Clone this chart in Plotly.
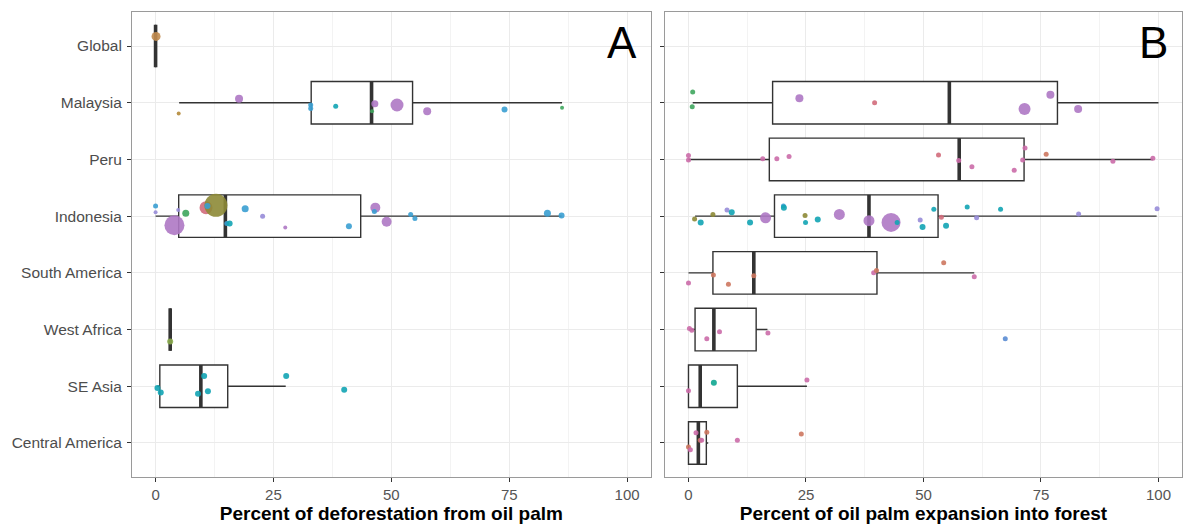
import plotly.graph_objects as go

# ---------------- categories ----------------
categories = ["Global", "Malaysia", "Peru", "Indonesia", "South America",
              "West Africa", "SE Asia", "Central America"]
x_ticks = [0, 25, 50, 75, 100]
x_title_a = "Percent of deforestation from oil palm"
x_title_b = "Percent of oil palm expansion into forest"

# ---------------- box statistics ----------------
# Panel A
a_box_cat = ["Global", "Malaysia", "Indonesia", "West Africa", "SE Asia"]
a_lower = [0.0, 5.0, 0.0, 3.1, 0.4]
a_q1 = [0.0, 33.0, 4.9, 3.1, 0.9]
a_median = [0.0, 45.8, 14.8, 3.1, 9.6]
a_q3 = [0.0, 54.5, 43.5, 3.1, 15.3]
a_upper = [0.0, 86.2, 86.1, 3.1, 27.6]

# Panel B
b_box_cat = ["Malaysia", "Peru", "Indonesia", "South America",
             "West Africa", "SE Asia", "Central America"]
b_lower = [0.9, 0.0, 1.4, 0.0, 0.2, 0.0, 0.0]
b_q1 = [17.9, 17.2, 18.3, 5.2, 1.4, 0.0, 0.0]
b_median = [55.5, 57.6, 38.4, 13.9, 5.4, 2.5, 2.1]
b_q3 = [78.5, 71.4, 53.1, 40.1, 14.4, 10.4, 3.8]
b_upper = [100.0, 98.8, 99.6, 60.8, 16.8, 25.2, 4.2]

# ---------------- individual study points ----------------
# Panel A
a_pt_cat = (["Global"]
            + ["Malaysia"] * 11
            + ["Indonesia"] * 21
            + ["West Africa"]
            + ["SE Asia"] * 7)
a_pt_val = ([0.1]
            + [4.9, 17.7, 32.9, 32.9, 38.2, 46.5, 45.9, 51.2, 57.6, 74.0, 86.2]
            + [0.0, 0.0, 4.8, 4.0, 6.4, 10.7, 12.8, 11.0, 15.1, 15.7, 19.0, 22.7,
               27.5, 41.0, 46.6, 46.4, 49.0, 54.1, 55.0, 83.1, 86.1]
            + [3.1]
            + [0.4, 1.1, 9.0, 10.3, 11.1, 27.7, 40.0])
# vertical jitter (category units, positive = downward)
a_pt_jit = ([-0.17]
            + [0.19, -0.07, 0.04, 0.10, 0.06, 0.02, 0.15, 0.04, 0.15, 0.12, 0.09]
            + [-0.18, -0.07, -0.11, 0.16, -0.05, -0.15, -0.19, -0.18, 0.13, 0.13,
               -0.13, 0.00, 0.20, 0.18, -0.15, -0.08, 0.10, -0.03, 0.04, -0.05, -0.01]
            + [0.21]
            + [0.03, 0.11, 0.13, -0.18, 0.09, -0.18, 0.06])
a_pt_grp = (["brown"]
            + ["gold", "purple", "blue", "blue", "teal", "purple", "green",
               "purple", "purple", "blue", "green"]
            + ["blue", "lavender", "lavender", "purple", "green", "redpink", "olive",
               "blue", "blue", "teal", "blue", "lavender", "purple", "blue",
               "purple", "blue", "purple", "blue", "blue", "blue", "blue"]
            + ["yellowgreen"]
            + ["teal"] * 7)
a_pt_size = ([9]
             + [4, 8, 5, 5, 5, 7, 4, 13, 8, 6, 4]
             + [5, 4, 4, 20, 7, 13, 23, 6, 5, 6, 7, 5, 4, 6, 10, 5, 10, 5, 5, 7, 6]
             + [6]
             + [6, 6, 6, 6, 6, 6, 6])

# Panel B
b_pt_cat = (["Malaysia"] * 7
            + ["Peru"] * 14
            + ["Indonesia"] * 26
            + ["South America"] * 8
            + ["West Africa"] * 6
            + ["SE Asia"] * 3
            + ["Central America"] * 8)
b_pt_val = ([0.9, 0.8, 23.6, 39.6, 71.5, 77.0, 82.9]
            + [0.0, 0.0, 15.8, 18.8, 21.4, 53.2, 57.5, 60.3, 69.3, 71.1, 71.6,
               76.1, 90.3, 98.8]
            + [1.3, 2.6, 5.2, 8.2, 9.2, 13.1, 16.4, 20.2, 20.3, 24.8, 24.9, 27.5,
               32.1, 38.4, 43.1, 44.4, 49.3, 49.8, 52.2, 53.8, 54.8, 59.3, 61.3,
               66.4, 83.0, 99.7]
            + [0.0, 5.3, 8.5, 13.9, 39.4, 40.0, 54.3, 60.8]
            + [0.2, 0.7, 3.9, 6.6, 16.9, 67.4]
            + [0.0, 5.4, 25.2]
            + [0.0, 0.4, 1.6, 3.9, 2.5, 2.8, 10.4, 24.0])
b_pt_jit = ([-0.19, 0.07, -0.08, 0.00, 0.11, -0.14, 0.11]
            + [-0.07, 0.01, -0.01, -0.01, -0.05, -0.08, 0.02, 0.13, 0.19, 0.01,
               -0.20, -0.09, 0.03, -0.02]
            + [0.05, 0.11, -0.03, -0.11, -0.07, 0.11, 0.03, -0.18, -0.15, -0.01,
               0.11, 0.06, -0.03, 0.08, 0.11, 0.11, 0.07, 0.19, -0.12, 0.02,
               0.17, -0.16, 0.03, -0.12, -0.04, -0.13]
            + [0.18, 0.04, 0.20, 0.05, 0.00, -0.04, -0.18, 0.07]
            + [-0.02, 0.01, 0.16, 0.04, 0.06, 0.16]
            + [0.08, -0.06, -0.11]
            + [0.07, 0.12, -0.18, -0.19, -0.05, -0.05, -0.05, -0.16])
b_pt_grp = (["green", "green", "purple", "redpink", "purple", "purple", "purple"]
            + ["pink", "pink", "pink", "pink", "pink", "redpink", "pink", "pink",
               "pink", "pink", "pink", "redorange", "pink", "pink"]
            + ["olive", "teal", "olive", "lavender", "teal", "teal", "purple",
               "blue", "teal", "olive", "teal", "teal", "purple", "purple",
               "purple", "teal", "lavender", "teal", "teal", "redpink", "teal",
               "teal", "lavender", "teal", "lavender", "lavender"]
            + ["pink", "redorange", "redorange", "redorange", "pink", "redorange",
               "redorange", "pink"]
            + ["pink", "pink", "pink", "pink", "pink", "steelblue"]
            + ["pink", "tealgreen", "pink"]
            + ["redorange", "pink", "pink", "redorange", "redorange", "pink",
               "pink", "redorange"])
b_pt_size = ([5, 5, 8, 5, 12, 8, 8]
             + [5] * 14
             + [5, 6, 5, 5, 6, 6, 11, 5, 6, 5, 5, 6, 11, 11, 19, 5, 5, 6, 5, 5,
                6, 5, 5, 5, 5, 5]
             + [5] * 8
             + [5] * 6
             + [5, 6, 5]
             + [5] * 8)

# ---------------- styling ----------------
palette = {
    "brown": "#C18B4E", "gold": "#B4893A", "purple": "#AE78C4",
    "blue": "#3A9ED2", "teal": "#12A4B4", "green": "#3FA65E",
    "olive": "#8D8A36", "redpink": "#D16C7B", "pink": "#CB6CA8",
    "redorange": "#CD775F", "lavender": "#978CD8", "steelblue": "#5A8CD3",
    "yellowgreen": "#88A94C", "tealgreen": "#10A690",
}
FONT = "Liberation Sans, Arial, Helvetica, sans-serif"
BOX_W = 0.75
idx = {c: i for i, c in enumerate(categories)}

fig = go.Figure()


def add_panel(xa, ya, box_cat, lo, q1, med, q3, up,
              pt_cat, pt_val, pt_jit, pt_grp, pt_size):
    fig.add_trace(go.Box(
        y=[idx[c] for c in box_cat], q1=q1, median=med, q3=q3,
        lowerfence=lo, upperfence=up, orientation="h", width=BOX_W,
        whiskerwidth=0, boxpoints=False, fillcolor="white",
        line=dict(color="#333333", width=1.4), showlegend=False,
        hoverinfo="skip", xaxis=xa, yaxis=ya))
    # thick median segments
    mx, my = [], []
    for c, m in zip(box_cat, med):
        mx += [m, m, None]
        my += [idx[c] - BOX_W / 2, idx[c] + BOX_W / 2, None]
    fig.add_trace(go.Scatter(x=mx, y=my, mode="lines",
                             line=dict(color="#333333", width=3.6),
                             showlegend=False, hoverinfo="skip",
                             xaxis=xa, yaxis=ya))
    fig.add_trace(go.Scatter(
        x=pt_val, y=[idx[c] + j for c, j in zip(pt_cat, pt_jit)],
        mode="markers",
        marker=dict(color=[palette[g] for g in pt_grp], size=pt_size,
                    opacity=0.9, line=dict(width=0)),
        showlegend=False, xaxis=xa, yaxis=ya, cliponaxis=False))


add_panel("x", "y", a_box_cat, a_lower, a_q1, a_median, a_q3, a_upper,
          a_pt_cat, a_pt_val, a_pt_jit, a_pt_grp, a_pt_size)
add_panel("x2", "y2", b_box_cat, b_lower, b_q1, b_median, b_q3, b_upper,
          b_pt_cat, b_pt_val, b_pt_jit, b_pt_grp, b_pt_size)

xcommon = dict(range=[-5, 105], tickvals=x_ticks, ticks="outside", ticklen=4,
               tickcolor="#333333", tickfont=dict(family=FONT, size=15, color="#555555"),
               showgrid=True, gridcolor="#EBEBEB", gridwidth=1, zeroline=False,
               showline=True, linecolor="#9A9A9A", linewidth=1, mirror=True,
               minor=dict(dtick=12.5, tick0=0, showgrid=True, gridcolor="#F3F3F3",
                          gridwidth=0.6),
               title=dict(font=dict(family=FONT, size=19, color="black"),
                          standoff=2))
ycommon = dict(range=[7.6, -0.6], tickvals=list(range(len(categories))),
               ticktext=categories, ticks="outside", ticklen=4, tickcolor="#333333",
               tickfont=dict(family=FONT, size=15.5, color="#4D4D4D"),
               ticklabelstandoff=2,
               showgrid=True, gridcolor="#EBEBEB", gridwidth=1, zeroline=False,
               showline=True, linecolor="#9A9A9A", linewidth=1, mirror=True)

fig.update_layout(
    width=1184, height=525,
    margin=dict(l=132, r=2, t=12, b=48),
    paper_bgcolor="white", plot_bgcolor="white",
    xaxis=dict(xcommon, domain=[0, 0.494], anchor="y",
               title=dict(xcommon["title"], text="<b>" + x_title_a + "</b>")),
    xaxis2=dict(xcommon, domain=[0.5076, 1], anchor="y2",
                title=dict(xcommon["title"], text="<b>" + x_title_b + "</b>")),
    yaxis=dict(ycommon, anchor="x"),
    yaxis2=dict(ycommon, anchor="x2", matches="y", showticklabels=False),
    annotations=[
        dict(text="A", x=99, xref="x", y=0.935, yref="paper", showarrow=False,
             xanchor="center", yanchor="middle",
             font=dict(family=FONT, size=44, color="black")),
        dict(text="B", x=99, xref="x2", y=0.935, yref="paper", showarrow=False,
             xanchor="center", yanchor="middle",
             font=dict(family=FONT, size=44, color="black")),
    ],
)

fig.write_html("out.html", config={"displayModeBar": False},
               post_script="document.body.style.margin='0';"
                           "document.body.style.overflow='hidden';")
